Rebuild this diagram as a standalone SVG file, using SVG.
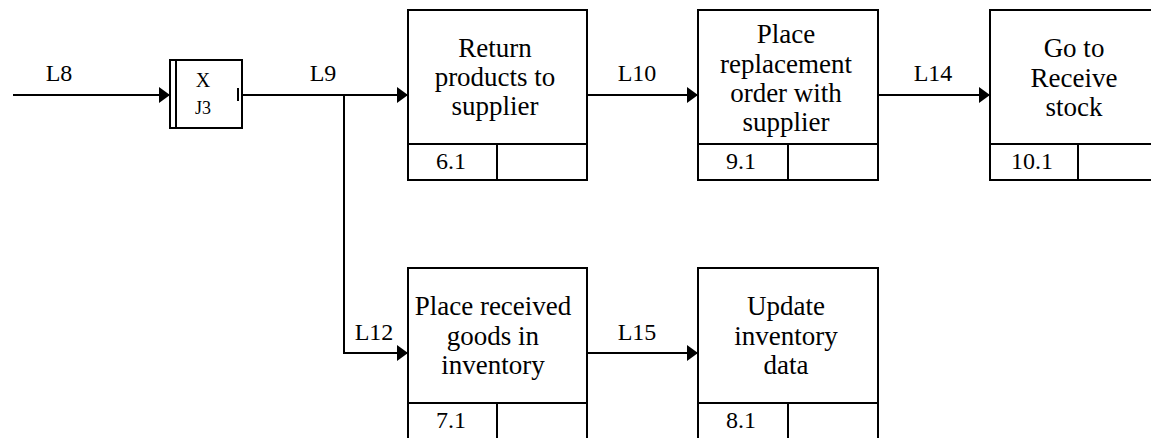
<svg xmlns="http://www.w3.org/2000/svg" width="1151" height="438" viewBox="0 0 1151 438">
  <style>
    .box { fill: #ffffff; stroke: #000000; stroke-width: 2; }
    .rule { stroke: #000000; stroke-width: 2; fill: none; }
    .wire { stroke: #000000; stroke-width: 2; fill: none; }
    .txt { font-family: "Liberation Serif", "Times New Roman", serif; font-size: 27px; fill: #000000; text-anchor: middle; }
    .lbl { font-family: "Liberation Serif", "Times New Roman", serif; font-size: 24px; fill: #000000; text-anchor: middle; }
    .num { font-family: "Liberation Serif", "Times New Roman", serif; font-size: 24px; fill: #000000; text-anchor: middle; }
    .jx { font-family: "Liberation Serif", "Times New Roman", serif; font-size: 20px; fill: #000000; text-anchor: middle; }
    .jn { font-family: "Liberation Serif", "Times New Roman", serif; font-size: 18px; fill: #000000; text-anchor: middle; }
  </style>
  <defs>
    <marker id="arrow" markerUnits="userSpaceOnUse" viewBox="0 0 11 16" refX="11" refY="8" markerWidth="11" markerHeight="16" orient="auto">
      <path d="M0,0 L11,8 L0,16 Z" fill="#000000"/>
    </marker>
  </defs>
  <rect width="1151" height="438" fill="#ffffff"/>

  <!-- connectors -->
  <g id="connectors">
    <line class="wire" x1="13" y1="95" x2="170" y2="95" marker-end="url(#arrow)"/>
    <line class="wire" x1="242" y1="95" x2="408" y2="95" marker-end="url(#arrow)"/>
    <polyline class="wire" points="344,95 344,353 408,353" marker-end="url(#arrow)"/>
    <line class="wire" x1="587" y1="95" x2="698" y2="95" marker-end="url(#arrow)"/>
    <line class="wire" x1="878" y1="95" x2="990" y2="95" marker-end="url(#arrow)"/>
    <line class="wire" x1="587" y1="353" x2="698" y2="353" marker-end="url(#arrow)"/>
    <text class="lbl" x="59" y="81">L8</text>
    <text class="lbl" x="323" y="81">L9</text>
    <text class="lbl" x="637" y="81">L10</text>
    <text class="lbl" x="933" y="81">L14</text>
    <text class="lbl" x="374" y="340">L12</text>
    <text class="lbl" x="637" y="340">L15</text>
  </g>

  <!-- junction J3 -->
  <g id="J3">
    <rect class="box" x="170" y="60" width="72" height="68"/>
    <line class="rule" x1="176" y1="60" x2="176" y2="128"/>
    <line class="rule" x1="238" y1="88" x2="238" y2="101"/>
    <text class="jx" x="203" y="87">X</text>
    <text class="jn" x="203" y="114">J3</text>
  </g>

  <!-- process 6.1 -->
  <g id="node-6-1">
    <rect class="box" x="408" y="10" width="179" height="170"/>
    <line class="rule" x1="408" y1="144" x2="587" y2="144"/>
    <line class="rule" x1="497" y1="144" x2="497" y2="180"/>
    <text class="txt" x="495" y="57">Return</text>
    <text class="txt" x="495" y="86">products to</text>
    <text class="txt" x="495" y="115">supplier</text>
    <text class="num" x="451" y="169">6.1</text>
  </g>

  <!-- process 9.1 -->
  <g id="node-9-1">
    <rect class="box" x="698" y="10" width="180" height="170"/>
    <line class="rule" x1="698" y1="144" x2="878" y2="144"/>
    <line class="rule" x1="788" y1="144" x2="788" y2="180"/>
    <text class="txt" x="786" y="43">Place</text>
    <text class="txt" x="786" y="73">replacement</text>
    <text class="txt" x="786" y="102">order with</text>
    <text class="txt" x="786" y="131">supplier</text>
    <text class="num" x="741" y="169">9.1</text>
  </g>

  <!-- process 10.1 -->
  <g id="node-10-1">
    <rect class="box" x="990" y="10" width="180" height="170"/>
    <line class="rule" x1="990" y1="144" x2="1170" y2="144"/>
    <line class="rule" x1="1078" y1="144" x2="1078" y2="180"/>
    <text class="txt" x="1074" y="57">Go to</text>
    <text class="txt" x="1074" y="87">Receive</text>
    <text class="txt" x="1074" y="116">stock</text>
    <text class="num" x="1032" y="169">10.1</text>
  </g>

  <!-- process 7.1 -->
  <g id="node-7-1">
    <rect class="box" x="408" y="268" width="179" height="172"/>
    <line class="rule" x1="408" y1="403" x2="587" y2="403"/>
    <line class="rule" x1="497" y1="403" x2="497" y2="440"/>
    <text class="txt" x="493" y="315">Place received</text>
    <text class="txt" x="493" y="345">goods in</text>
    <text class="txt" x="493" y="374">inventory</text>
    <text class="num" x="451" y="428">7.1</text>
  </g>

  <!-- process 8.1 -->
  <g id="node-8-1">
    <rect class="box" x="698" y="268" width="180" height="172"/>
    <line class="rule" x1="698" y1="403" x2="878" y2="403"/>
    <line class="rule" x1="788" y1="403" x2="788" y2="440"/>
    <text class="txt" x="786" y="315">Update</text>
    <text class="txt" x="786" y="345">inventory</text>
    <text class="txt" x="786" y="374">data</text>
    <text class="num" x="741" y="428">8.1</text>
  </g>
</svg>
